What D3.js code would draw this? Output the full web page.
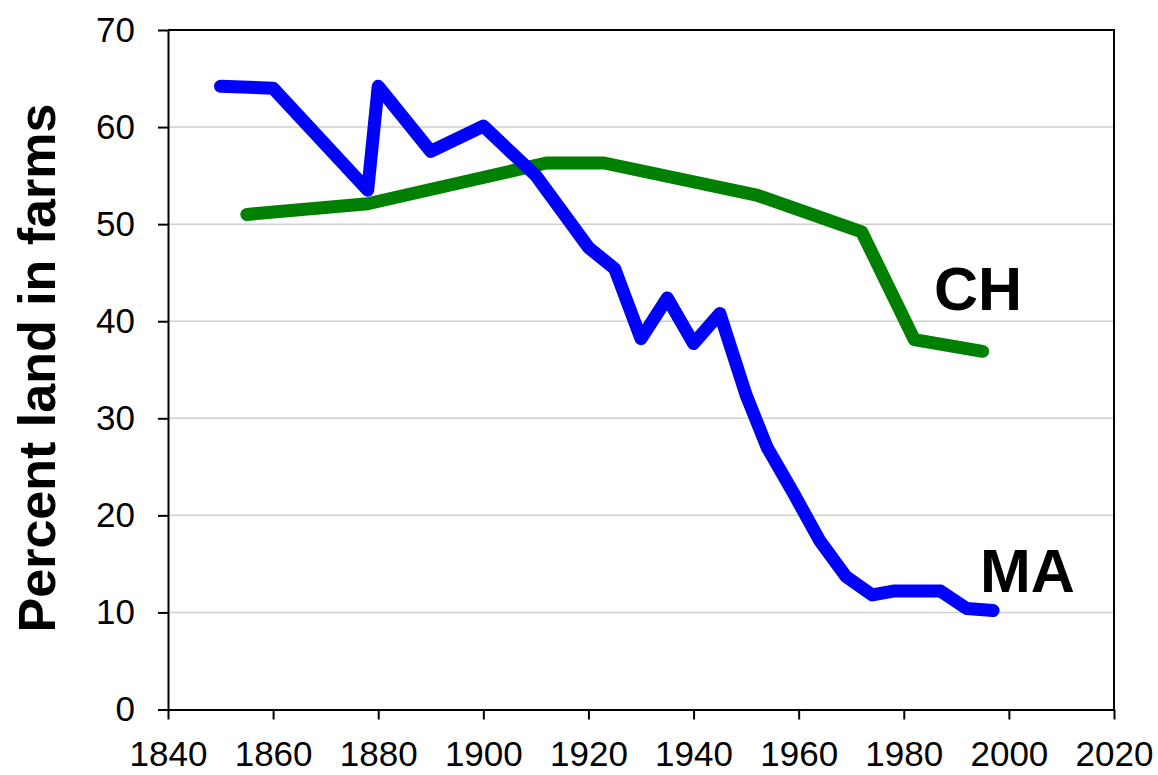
<!DOCTYPE html>
<html>
<head>
<meta charset="utf-8">
<script src="https://cdn.jsdelivr.net/npm/d3@7"></script>
<style>
  body { margin: 0; background: #fff; }
  text { font-family: Arial, "Liberation Sans", sans-serif; }
</style>
</head>
<body>
<div id="chart"></div>
<script>
// Percent land in farms, MA vs CH

const maYears  = [1850, 1860, 1878, 1880, 1890, 1900, 1910, 1920, 1925, 1930, 1935, 1940, 1945, 1950, 1954, 1959, 1964, 1969, 1974, 1978, 1982, 1987, 1992, 1997];
const maValues = [64.2, 64.0, 53.5, 64.2, 57.5, 60.1, 55.0, 47.6, 45.4, 38.2, 42.4, 37.7, 40.8, 32.4, 27.0, 22.3, 17.4, 13.7, 11.8, 12.2, 12.2, 12.2, 10.4, 10.2];

const chYears  = [1855, 1878, 1912, 1923, 1952, 1972, 1982, 1995];
const chValues = [51.0, 52.1, 56.3, 56.3, 53.0, 49.2, 38.1, 36.9];

const xTicks = [1840, 1860, 1880, 1900, 1920, 1940, 1960, 1980, 2000, 2020];
const yTicks = [0, 10, 20, 30, 40, 50, 60, 70];

const width = 1158;
const height = 775;
const margin = {top: 30, right: 44, bottom: 65.5, left: 168};

const svg = d3.select("#chart")
    .append("svg")
    .attr("width", width)
    .attr("height", height);

const x = d3.scaleLinear()
    .domain([1840, 2020])
    .range([margin.left, width - margin.right]);

const y = d3.scaleLinear()
    .domain([0, 70])
    .range([height - margin.bottom, margin.top]);

// gridlines
svg.append("g")
    .selectAll("line")
    .data(yTicks.filter(d => d > 0 && d < 70))
    .join("line")
    .attr("x1", margin.left)
    .attr("x2", width - margin.right)
    .attr("y1", d => y(d))
    .attr("y2", d => y(d))
    .attr("stroke", "#cfcfcf")
    .attr("stroke-width", 1.5);

// top and right border
svg.append("path")
    .attr("d", `M${x(1840)},${y(70)}H${x(2020)}V${y(0)}`)
    .attr("fill", "none")
    .attr("stroke", "#000")
    .attr("stroke-width", 2);

// X axis
const xAxis = svg.append("g")
    .attr("transform", `translate(0,${y(0)})`)
    .call(d3.axisBottom(x).tickValues(xTicks).tickFormat(d3.format("d"))
        .tickSize(10).tickPadding(22).tickSizeOuter(0));

// Y axis
const yAxis = svg.append("g")
    .attr("transform", `translate(${x(1840)},0)`)
    .call(d3.axisLeft(y).tickValues(yTicks)
        .tickSize(10).tickPadding(23).tickSizeOuter(0));

[xAxis, yAxis].forEach(g => {
    g.select(".domain").attr("stroke", "#000").attr("stroke-width", 2);
    g.selectAll(".tick line").attr("stroke", "#000").attr("stroke-width", 2);
    g.selectAll(".tick text")
        .attr("fill", "#000")
        .style("font-size", "35px")
        .style("font-family", "Arial, 'Liberation Sans', sans-serif");
});

// lines
const line = d3.line()
    .x(d => x(d[0]))
    .y(d => y(d[1]));

const series = [
    {name: "MA", color: "#0000ff", pts: d3.zip(maYears, maValues)},
    {name: "CH", color: "#008000", pts: d3.zip(chYears, chValues)}
];

// draw CH first so MA sits on top
series.slice().reverse().forEach(s => {
    svg.append("path")
        .datum(s.pts)
        .attr("d", line)
        .attr("fill", "none")
        .attr("stroke", s.color)
        .attr("stroke-width", 13)
        .attr("stroke-linejoin", "round")
        .attr("stroke-linecap", "round");
});

// series labels
svg.append("text")
    .attr("x", 934)
    .attr("y", 310)
    .style("font-size", "61px")
    .style("font-weight", "bold")
    .text("CH");

svg.append("text")
    .attr("x", 980)
    .attr("y", 592)
    .style("font-size", "61px")
    .style("font-weight", "bold")
    .text("MA");

// Y axis label
svg.append("text")
    .attr("text-anchor", "middle")
    .attr("transform", "rotate(-90)")
    .attr("x", -368)
    .attr("y", 55)
    .style("font-size", "52px")
    .style("font-weight", "bold")
    .text("Percent land in farms");
</script>
</body>
</html>
